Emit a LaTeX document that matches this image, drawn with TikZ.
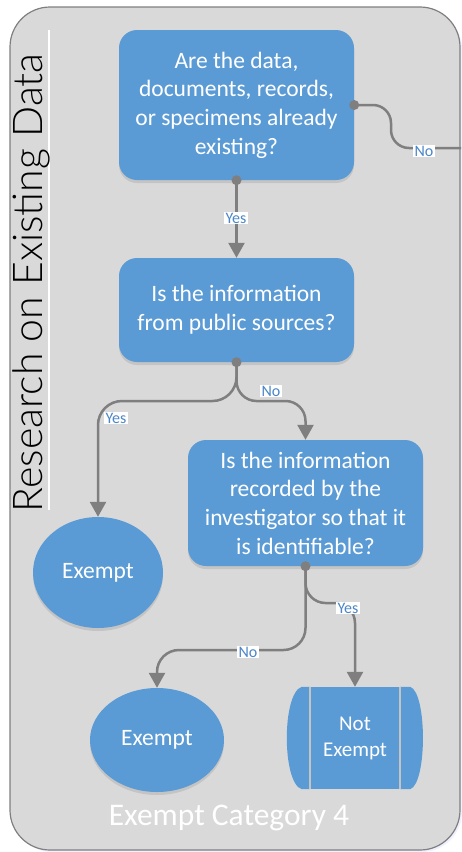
\documentclass[tikz,border=0pt]{standalone}
\usepackage{fontspec}
\setmainfont{Carlito}
\newfontfamily\titlefont{Lato Light}
\usetikzlibrary{arrows.meta,shapes.geometric,shadows}

\definecolor{panelgray}{HTML}{D9D9D9}
\definecolor{panelline}{HTML}{7F7F7F}
\definecolor{boxblue}{HTML}{5B9BD5}
\definecolor{conncol}{HTML}{7F7F7F}
\definecolor{lbltext}{HTML}{4A86C8}
\definecolor{capline}{HTML}{C4C4C4}

\tikzset{
  softshadow/.style={drop shadow={opacity=0.18, shadow xshift=0pt, shadow yshift=-3pt, fill=black!60}},
  question/.style={rectangle, rounded corners=18pt, fill=boxblue, draw=none,
    minimum width=235pt, inner sep=0pt, text=white, align=center,
    font=\fontsize{23.5}{28.7}\selectfont, softshadow},
  outcome/.style={ellipse, fill=boxblue, draw=none, inner sep=0pt, text=white,
    font=\fontsize{23.5}{28}\selectfont, softshadow},
  conn/.style={draw=conncol, line width=2.5pt, rounded corners=22pt},
  arr/.style={-{Triangle[width=16pt,length=15pt]}},
  lbl/.style={fill=white, text=lbltext, inner sep=1.2pt, font=\fontsize{16}{16}\selectfont},
  dot/.style={fill=conncol},
}

\begin{document}
\begin{tikzpicture}[x=1pt, y=-1pt]
\useasboundingbox (0,0) rectangle (461,852);

% background panel
\fill[blue!6, rounded corners=40pt] (12,9) rectangle (462,852);
\filldraw[fill=panelgray, draw=panelline, line width=1.2pt, rounded corners=40pt]
  (10,7) rectangle (460,850);

% vertical title and its rule
\draw[white, line width=2pt] (49,30) -- (49,510);
\node[rotate=90, font=\titlefont\fontsize{41}{41}\selectfont, text=black, inner sep=0pt]
  (title) at (31,283) {Research on Existing Data};

% decision boxes
\node[question, minimum height=150pt] (q1) at (236.5,105)
  {Are the data,\\documents, records,\\or specimens already\\existing?};
\node[question, minimum height=104pt] (q2) at (236.5,310)
  {Is the information\\from public sources?};
\node[question, minimum height=126pt] (q3) at (305.5,503)
  {Is the information\\recorded by the\\investigator so that it\\is identifiable?};

% outcomes
\node[outcome, minimum width=130pt, minimum height=111pt] (ex1) at (98,572.5) {Exempt};
\node[outcome, minimum width=134pt, minimum height=104pt] (ex2) at (157,740) {Exempt};

% "Not Exempt" block: centre rectangle with bulging end caps
\node[rectangle, fill=boxblue, draw=none, minimum width=90pt, minimum height=102pt,
  inner sep=0pt, text=white, align=center, font=\fontsize{21}{26}\selectfont]
  (nex) at (355,738) {Not\\Exempt};
\fill[boxblue] (nex.north east) -- ([xshift=10pt]nex.north east)
  .. controls ([xshift=27pt,yshift=-6pt]nex.north east) and ([xshift=27pt,yshift=6pt]nex.south east)
  .. ([xshift=10pt]nex.south east) -- (nex.south east) -- cycle;
\fill[boxblue] (nex.north west) -- ([xshift=-8pt]nex.north west)
  .. controls ([xshift=-28pt,yshift=-6pt]nex.north west) and ([xshift=-28pt,yshift=6pt]nex.south west)
  .. ([xshift=-8pt]nex.south west) -- (nex.south west) -- cycle;
\draw[capline, line width=1.5pt] (nex.north west) -- (nex.south west);
\draw[capline, line width=1.5pt] (nex.north east) -- (nex.south east);

% footer
\node[text=white, font=\fontsize{31.5}{31.5}\selectfont] (footer) at (229,818) {Exempt Category 4};

% connectors
\coordinate (offright) at (461,148);
\draw[conn, arr] (q1.south) -- (q2.north);
\draw[conn, rounded corners=18pt] (q1.east) -| (391,148) -- (offright);
\draw[conn, arr, rounded corners=24pt] (q2.south) |- (98,401) -- (ex1.north);
\draw[conn, arr, rounded corners=20pt] (q2.south) |- (305.5,401) -- (q3.north);
\draw[conn, arr, rounded corners=22pt] (q3.south) |- (157,650) -- (ex2.north);
\draw[conn, arr, rounded corners=20pt] (q3.south) |- (355,603) -- (nex.north);

% connection dots
\fill[dot] (q1.south) circle (5pt);
\fill[dot] (q1.east) circle (5pt);
\fill[dot] (q2.south) circle (5pt);
\fill[dot] (q3.south) circle (5pt);

% branch labels
\node[lbl] (l1) at (236,218) {Yes};
\node[lbl] (l2) at (424,151) {No};
\node[lbl] (l3) at (116,418) {Yes};
\node[lbl] (l4) at (271,391) {No};
\node[lbl] (l5) at (248,652) {No};
\node[lbl] (l6) at (348,608) {Yes};
\end{tikzpicture}
\end{document}
